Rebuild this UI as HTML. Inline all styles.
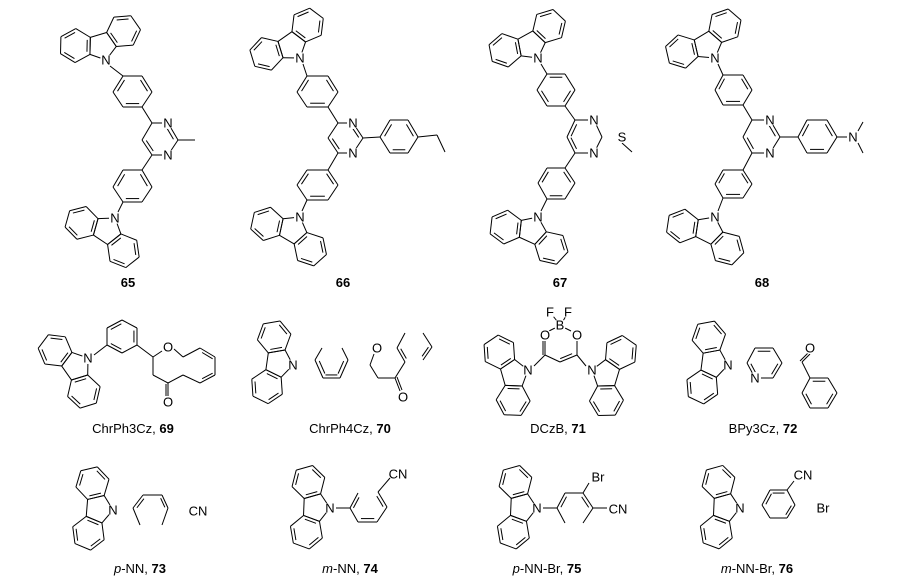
<!DOCTYPE html>
<html><head><meta charset="utf-8"><style>
html,body{margin:0;padding:0;background:#fff;}
svg{display:block;}
text{font-family:"Liberation Sans",sans-serif;fill:#000;}
.a{font-size:13px;text-anchor:middle;dominant-baseline:central;}
.l{font-size:13px;text-anchor:middle;}
</style></head><body>
<svg id="s" width="900" height="582" viewBox="0 0 900 582" xmlns="http://www.w3.org/2000/svg">
<g id="g" stroke="#000" stroke-width="1" fill="none"></g>
<g fill="#fff">
<circle cx="106" cy="60" r="6"/><circle cx="115" cy="218" r="6"/>
<circle cx="168" cy="123" r="6"/><circle cx="168" cy="155" r="6"/>
<circle cx="300" cy="58" r="6"/><circle cx="300" cy="217" r="6"/>
<circle cx="353" cy="123" r="6"/><circle cx="353" cy="153" r="6"/>
<circle cx="538" cy="58" r="6"/><circle cx="538" cy="217" r="6"/>
<circle cx="594" cy="120" r="6"/><circle cx="594" cy="153" r="6"/><circle cx="622" cy="137" r="6"/>
<circle cx="715" cy="58" r="6"/><circle cx="715" cy="217" r="6"/>
<circle cx="770" cy="120" r="6"/><circle cx="770" cy="153" r="6"/><circle cx="853" cy="137" r="6"/>
<circle cx="88" cy="358" r="6"/><circle cx="168" cy="347" r="6"/><circle cx="168" cy="402" r="6"/>
<circle cx="293" cy="365" r="6"/><circle cx="377" cy="348" r="6"/><circle cx="403" cy="397" r="6"/>
<circle cx="528" cy="370" r="6"/><circle cx="592" cy="370" r="6"/><circle cx="545" cy="335" r="6"/><circle cx="577" cy="335" r="6"/><circle cx="560" cy="325" r="6"/><circle cx="550" cy="312" r="6"/><circle cx="568" cy="312" r="6"/>
<circle cx="728" cy="365" r="6"/><circle cx="755" cy="378" r="6"/><circle cx="810" cy="348" r="6"/>
<circle cx="113" cy="510" r="6"/><circle cx="330" cy="508" r="6"/><circle cx="537" cy="508" r="6"/><circle cx="740" cy="508" r="6"/>
</g>
<g>
<text class="a" x="106" y="60">N</text><text class="a" x="115" y="218">N</text>
<text class="a" x="168" y="123">N</text><text class="a" x="168" y="155">N</text>
<text class="a" x="300" y="58">N</text><text class="a" x="300" y="217">N</text>
<text class="a" x="353" y="123">N</text><text class="a" x="353" y="153">N</text>
<text class="a" x="538" y="58">N</text><text class="a" x="538" y="217">N</text>
<text class="a" x="594" y="120">N</text><text class="a" x="594" y="153">N</text><text class="a" x="622" y="137">S</text>
<text class="a" x="715" y="58">N</text><text class="a" x="715" y="217">N</text>
<text class="a" x="770" y="120">N</text><text class="a" x="770" y="153">N</text><text class="a" x="853" y="137">N</text>
<text class="a" x="88" y="358">N</text><text class="a" x="168" y="347">O</text><text class="a" x="168" y="402">O</text>
<text class="a" x="293" y="365">N</text><text class="a" x="377" y="348">O</text><text class="a" x="403" y="397">O</text>
<text class="a" x="528" y="370">N</text><text class="a" x="592" y="370">N</text><text class="a" x="545" y="335">O</text><text class="a" x="577" y="335">O</text><text class="a" x="560" y="325">B</text><text class="a" x="550" y="312">F</text><text class="a" x="568" y="312">F</text>
<text class="a" x="728" y="365">N</text><text class="a" x="755" y="378">N</text><text class="a" x="810" y="348">O</text>
<text class="a" x="113" y="510">N</text><text class="a" x="198" y="511">CN</text>
<text class="a" x="330" y="508">N</text><text class="a" x="398" y="474">CN</text>
<text class="a" x="537" y="508">N</text><text class="a" x="598" y="477">Br</text><text class="a" x="618" y="509">CN</text>
<text class="a" x="740" y="508">N</text><text class="a" x="803" y="475">CN</text><text class="a" x="823" y="508">Br</text>
</g>
<g style="font-weight:bold">
<text class="l" x="128" y="287">65</text><text class="l" x="343" y="287">66</text>
<text class="l" x="560" y="287">67</text><text class="l" x="762" y="287">68</text>
</g>
<text class="l" x="133" y="433">ChrPh3Cz, <tspan font-weight="bold">69</tspan></text>
<text class="l" x="350" y="433">ChrPh4Cz, <tspan font-weight="bold">70</tspan></text>
<text class="l" x="558" y="433">DCzB, <tspan font-weight="bold">71</tspan></text>
<text class="l" x="763" y="433">BPy3Cz, <tspan font-weight="bold">72</tspan></text>
<text class="l" x="140" y="573"><tspan font-style="italic">p</tspan>-NN, <tspan font-weight="bold">73</tspan></text>
<text class="l" x="350" y="573"><tspan font-style="italic">m</tspan>-NN, <tspan font-weight="bold">74</tspan></text>
<text class="l" x="547" y="573"><tspan font-style="italic">p</tspan>-NN-Br, <tspan font-weight="bold">75</tspan></text>
<text class="l" x="757" y="573"><tspan font-style="italic">m</tspan>-NN-Br, <tspan font-weight="bold">76</tspan></text>
</svg>
<script>
var g=document.getElementById('g'),NS='http://www.w3.org/2000/svg';
function L(a,b,c,d){var e=document.createElementNS(NS,'line');e.setAttribute('x1',a);e.setAttribute('y1',b);e.setAttribute('x2',c);e.setAttribute('y2',d);g.appendChild(e);}
function P(pts){for(var i=0;i<pts.length-1;i++)L(pts[i][0],pts[i][1],pts[i+1][0],pts[i+1][1]);}
function inner(p,q,c){var o=0.18,s=0.15;var dx=c[0]-(p[0]+q[0])/2,dy=c[1]-(p[1]+q[1])/2,m=Math.hypot(dx,dy),bl=Math.hypot(q[0]-p[0],q[1]-p[1]);var ox=dx/m*o*bl,oy=dy/m*o*bl;var x1=p[0]+(q[0]-p[0])*s+ox,y1=p[1]+(q[1]-p[1])*s+oy,x2=q[0]-(q[0]-p[0])*s+ox,y2=q[1]-(q[1]-p[1])*s+oy;L(x1,y1,x2,y2);}
function R(pts,dbl){var n=pts.length,cx=0,cy=0;pts.forEach(function(p){cx+=p[0];cy+=p[1];});cx/=n;cy/=n;for(var i=0;i<n;i++){var p=pts[i],q=pts[(i+1)%n];L(p[0],p[1],q[0],q[1]);}(dbl||[]).forEach(function(i){inner(pts[i],pts[(i+1)%n],[cx,cy]);});}
function hexOn(A,B,C){var mx=(A[0]+B[0])/2,my=(A[1]+B[1])/2,dx=mx-C[0],dy=my-C[1],m=Math.hypot(dx,dy),b=Math.hypot(B[0]-A[0],B[1]-A[1]);var hx=mx+dx/m*b*0.866,hy=my+dy/m*b*0.866;var a0=Math.atan2(A[1]-hy,A[0]-hx),a1=Math.atan2(B[1]-hy,B[0]-hx);var dir=((a1-a0+3*Math.PI)%(2*Math.PI)-Math.PI)>0?1:-1;var pts=[];for(var k=0;k<6;k++){var a=a0+dir*k*Math.PI/3;pts.push([hx+b*Math.cos(a),hy+b*Math.sin(a)]);}R(pts,[0,2,4]);}
function Cz(nx,ny,tx,ty){var dx=tx-nx,dy=ty-ny,d=Math.hypot(dx,dy),b=17;dx/=d;dy/=d;var r=0.8507*b,cx=nx+dx*r,cy=ny+dy*r,a0=Math.atan2(-dy,-dx),pts=[];for(var k=0;k<5;k++){var a=a0+k*2*Math.PI/5;pts.push([cx+r*Math.cos(a),cy+r*Math.sin(a)]);}R(pts,[]);hexOn(pts[1],pts[2],[cx,cy]);hexOn(pts[3],pts[4],[cx,cy]);}
// 65
Cz(106,60,100,40);L(110,66,123,76);R([[123,76],[142,76],[152,92],[142,107],[123,107],[113,92]],[1,3,5]);
L(142,107,152,123);R([[152,123],[168,123],[178,140],[168,155],[152,155],[142,140]],[1,4]);L(178,140,195,140);
L(152,155,142,170);R([[142,170],[123,170],[113,187],[123,202],[142,202],[152,187]],[1,3,5]);L(123,202,118,212);Cz(115,218,99,242);
// 66
Cz(300,58,286,38);L(303,64,307,76);R([[307,76],[328,76],[338,92],[328,107],[307,107],[297,92]],[1,3,5]);
L(328,107,338,123);R([[338,123],[353,123],[363,138],[353,153],[338,153],[328,138]],[1,4]);L(363,138,380,137);
R([[390,120],[408,120],[418,137],[408,153],[390,153],[380,137]],[1,3,5]);P([[418,137],[437,135],[445,152]]);
L(338,153,328,170);R([[328,170],[307,170],[297,185],[307,200],[328,200],[338,185]],[1,3,5]);L(307,200,302,211);Cz(300,217,286,241);
// 67
Cz(538,58,527,38);L(541,64,547,74);R([[547,74],[565,74],[575,90],[565,106],[547,106],[537,90]],[0,2,4]);
P([[565,106],[575,120]]);R([[575,120],[594,120],[602,137],[594,153],[575,153],[567,137]],[4,5]);
L(622,143,632,152);L(575,153,565,168);R([[565,168],[547,168],[538,183],[547,199],[565,199],[575,183]],[1,3,5]);L(547,199,541,211);Cz(538,217,527,241);
// 68
Cz(715,58,703,38);L(718,64,723,75);R([[723,75],[743,75],[752,90],[743,105],[723,105],[715,90]],[1,3,5]);
L(743,105,752,120);R([[752,120],[770,120],[780,137],[770,153],[752,153],[743,137]],[1,4]);L(780,137,798,137);
R([[807,120],[827,120],[837,137],[827,153],[807,153],[798,137]],[1,3,5]);L(837,137,847,137);L(858,131,863,122);L(858,143,863,153);
L(752,153,743,170);R([[743,170],[723,170],[715,184],[723,198],[743,198],[752,184]],[1,3,5]);L(723,198,718,211);Cz(715,217,703,241);
// 69
Cz(88,358,68,372);L(94,355,107,345);R([[107,328],[122,320],[137,328],[137,345],[122,353],[107,345]],[0,2,4]);
P([[137,345],[153,357],[162,351]]);P([[174,349],[183,357],[200,348],[215,357],[215,375],[200,383],[183,375],[168,383],[153,375],[153,357]]);
inner([200,348],[215,357],[207,366]);inner([215,375],[200,383],[207,366]);L(168,383,168,396);L(166,384,166,396);
// 70
Cz(293,365,272,362);P([[322,348],[315,360],[323,378],[340,378],[348,360],[342,348]]);inner([323,378],[340,378],[331,360]);inner([315,360],[323,378],[331,362]);inner([340,378],[348,360],[331,362]);
P([[374,354],[370,365],[378,378],[395,378],[405,362],[397,348],[405,333]]);P([[423,333],[432,347],[423,360]]);L(395,378,400,391);L(397,377,402,390);inner([405,362],[397,348],[410,350]);inner([432,347],[423,360],[418,346]);
// 71
Cz(528,370,507,376);Cz(592,370,612,376);L(534,366,545,355);L(586,366,577,355);
P([[545,355],[560,362],[577,355]]);inner([560,362],[577,355],[560,350]);L(545,341,545,355);L(543,341,543,355);L(577,341,577,355);
L(549,331,555,328);L(571,331,565,328);L(553,316,557,321);L(566,316,563,321);
// 72
Cz(728,365,705,362);R([[755,348],[773,348],[782,363],[773,378],[755,378],[747,363]],[0,2,4]);
L(810,354,802,362);L(808,353,800,361);L(802,362,810,378);R([[810,378],[828,378],[837,393],[828,408],[810,408],[802,393]],[0,2,4]);
// 73
Cz(113,510,88,508);P([[140,525],[133,508],[143,495],[162,495],[168,508],[162,525]]);inner([133,508],[143,495],[150,510]);inner([162,495],[168,508],[150,510]);
// 74
Cz(330,508,305,507);P([[336,508],[350,508],[358,493]]);inner([350,508],[358,493],[362,508]);P([[350,508],[358,522],[377,522],[387,507],[378,492],[390,478]]);inner([358,522],[377,522],[368,507]);inner([387,507],[378,492],[372,507]);
// 75
Cz(537,508,513,507);P([[543,508],[557,508],[565,493],[583,493],[593,508],[607,508]]);inner([557,508],[565,493],[575,508]);inner([583,493],[593,508],[575,508]);L(583,493,589,483);L(557,508,565,523);L(593,508,583,523);
// 76
Cz(740,508,717,507);P([[770,518],[762,505],[770,490],[787,490],[795,505],[787,518],[770,518]]);inner([770,490],[787,490],[779,505]);inner([795,505],[787,518],[779,505]);inner([762,505],[770,490],[779,505]);L(787,490,794,481);
</script>
</body></html>
